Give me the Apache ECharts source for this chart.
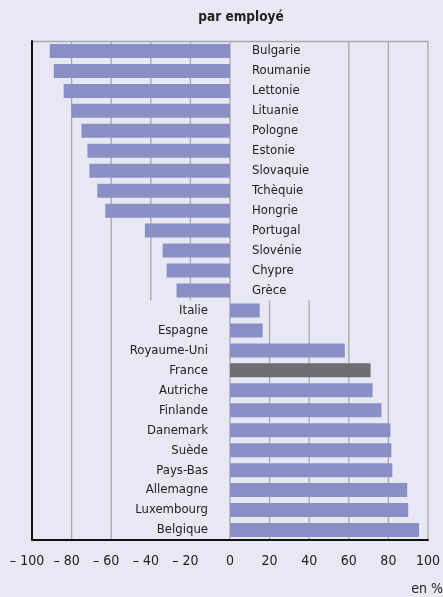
<!DOCTYPE html>
<html>
<head>
<meta charset="utf-8">
<script src="https://cdn.jsdelivr.net/npm/echarts@6/dist/echarts.min.js"></script>
<style>
  html, body { margin: 0; padding: 0; background: #e8e8f4; }
  #chart { width: 443px; height: 597px; }
</style>
</head>
<body>
<div id="chart"></div>
<script>
// pays, de haut en bas
const pays = ['Bulgarie', 'Roumanie', 'Lettonie', 'Lituanie', 'Pologne', 'Estonie', 'Slovaquie',
  'Tchèquie', 'Hongrie', 'Portugal', 'Slovénie', 'Chypre', 'Grèce', 'Italie', 'Espagne',
  'Royaume-Uni', 'France', 'Autriche', 'Finlande', 'Danemark', 'Suède', 'Pays-Bas',
  'Allemagne', 'Luxembourg', 'Belgique'];
// écart en %
const valeurs = [-91, -89, -84, -80, -75, -72, -71, -67, -63, -43, -34, -32, -27,
  15, 16.5, 58, 71, 72, 76.5, 81, 81.5, 82, 89.5, 90, 95.5];
const ticksX = [-100, -80, -60, -40, -20, 0, 20, 40, 60, 80, 100];
const tickLabels = ['– 100', '– 80', '– 60', '– 40', '– 20', '0', '20', '40', '60', '80', '100'];
// lignes de repère : [x, de la ligne, à la ligne] (interrompues derrière les noms de pays)
const repereX = [-80, -60, -40, -20, 0, 20, 40, 60, 80, 100];
const repereDebut = [0, 0, 0, 0, 0, 13, 13, 0, 0, 0];
const repereFin = [25, 25, 13, 13, 25, 25, 25, 25, 25, 25];

const FONT = "'DejaVu Sans Condensed', sans-serif";
const BG = '#e8e8f4';
const BAR = '#8a8fc6';
const GRID = '#a8a8b0';

const chart = echarts.init(document.getElementById('chart'));

const barData = valeurs.map((v, i) => ({
  value: v,
  itemStyle: { color: pays[i] === 'France' ? '#6d6e71' : BAR },
  label: { position: v < 0 ? 'right' : 'left' }
}));

chart.setOption({
  backgroundColor: BG,
  animation: false,
  title: {
    text: 'par employé',
    left: 236,
    top: 5,
    textAlign: 'center',
    textStyle: { fontFamily: FONT, fontSize: 13.5, fontWeight: 'bold', color: '#222' }
  },
  grid: { left: 32, right: 13, top: 41, bottom: 57 },
  xAxis: [{
    type: 'value',
    min: -100, max: 100, interval: 20,
    axisLine: { show: true, onZero: false, lineStyle: { color: '#111', width: 2 } },
    axisTick: { show: false },
    splitLine: { show: false },
    axisLabel: {
      margin: 14,
      fontFamily: FONT, fontSize: 14, color: '#222',
      // le signe « – » déborde à gauche, les chiffres restent centrés sur le repère
      formatter: v => {
        const t = tickLabels[ticksX.indexOf(v)];
        return v < 0 ? '{neg|' + t + '}' : t;
      },
      rich: {
        neg: { fontFamily: FONT, fontSize: 14, color: '#222', padding: [0, 10, 0, 0] }
      }
    },
    z: 3
  }, {
    type: 'value',
    position: 'top',
    min: -100, max: 100, interval: 20,
    axisLine: { show: true, onZero: false, lineStyle: { color: GRID, width: 1.3 } },
    axisTick: { show: false },
    splitLine: { show: false },
    axisLabel: { show: false }
  }],
  yAxis: [{
    type: 'category',
    data: pays,
    inverse: true,
    axisLine: { show: true, onZero: false, lineStyle: { color: '#111', width: 2 } },
    axisTick: { show: false },
    axisLabel: { show: false },
    z: 3
  }, {
    type: 'value',
    min: 0, max: 25,
    inverse: true,
    show: false
  }],
  series: [{
    type: 'custom',
    xAxisIndex: 0,
    yAxisIndex: 1,
    z: 1,
    silent: true,
    data: repereX.map((x, i) => [x, repereDebut[i], repereFin[i]]),
    renderItem: (params, api) => {
      const a = api.coord([api.value(0), api.value(1)]);
      const b = api.coord([api.value(0), api.value(2)]);
      return {
        type: 'line',
        shape: { x1: a[0], y1: a[1], x2: b[0], y2: b[1] },
        style: { stroke: GRID, lineWidth: 1.3 }
      };
    }
  }, {
    type: 'bar',
    xAxisIndex: 0,
    yAxisIndex: 0,
    z: 2,
    data: barData,
    barWidth: 14,
    label: {
      show: true,
      distance: 22,
      formatter: p => pays[p.dataIndex],
      fontFamily: FONT,
      fontSize: 13,
      color: '#222'
    }
  }],
  graphic: [{
    type: 'text',
    right: 0,
    top: 582,
    style: { text: 'en %', font: '14px ' + FONT, fill: '#222' }
  }]
});
</script>
</body>
</html>
